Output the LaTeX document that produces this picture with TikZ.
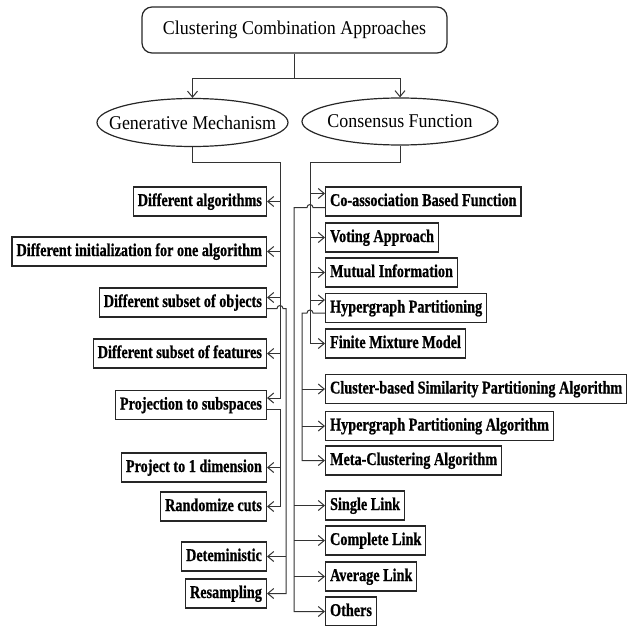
\documentclass[tikz,border=0pt]{standalone}
\usepackage{fontspec}
\setmainfont{Liberation Serif}
\newfontfamily\headfont{Liberation Serif}[FakeStretch=0.92]
\newfontfamily\boxfont{Liberation Serif}[FakeStretch=0.79,BoldFeatures={FakeBold=0.8}]
\usetikzlibrary{calc,arrows.meta,shapes.geometric}

\begin{document}
\begin{tikzpicture}[x=1pt,y=-1pt,->,>={Straight Barb[length=6pt,width=10pt]},
  link/.style={draw=black!80,line width=1pt},
  topbox/.style={draw=black!85,line width=1.2pt,rounded corners=10pt,minimum width=305pt,minimum height=46pt,font=\headfont\fontsize{19.5}{22}\selectfont},
  mech/.style={ellipse,draw=black!85,line width=1.2pt,inner xsep=-20pt,inner ysep=0pt,minimum width=191pt,minimum height=48pt,font=\headfont\fontsize{19.5}{22}\selectfont},
  leaf/.style={draw=black!85,line width=1.2pt,minimum height=29pt,inner xsep=4.5pt,inner ysep=0pt,text height=12.5pt,text depth=3.5pt,font=\boxfont\bfseries\fontsize{18}{20}\selectfont},
  gleaf/.style={leaf,anchor=east},
  cleaf/.style={leaf,anchor=west}]
  \useasboundingbox (0,0) rectangle (627,626);

  \node[topbox] (top) at (294.5,30) {Clustering Combination Approaches};
  \node[mech] (gen) at (192.5,122.5) {Generative Mechanism};
  \node[mech,minimum width=196pt,minimum height=47pt] (con) at (400,121.5) {Consensus Function};

  \node[gleaf] (g1) at (267,201.5) {Different algorithms};
  \node[gleaf] (g2) at (267,251.5) {Different initialization for one algorithm};
  \node[gleaf] (g3) at (267,302.5) {Different subset of objects};
  \node[gleaf] (g4) at (267,353.5) {Different subset of features};
  \node[gleaf] (g5) at (267,405) {Projection to subspaces};
  \node[gleaf] (g6) at (267,467.5) {Project to 1 dimension};
  \node[gleaf] (g7) at (267,506.5) {Randomize cuts};
  \node[gleaf] (g8) at (267,556.5) {Deteministic};
  \node[gleaf] (g9) at (267,593.5) {Resampling};

  \node[cleaf] (c1) at (325,201.5) {Co-association Based Function};
  \node[cleaf] (c2) at (325,237.5) {Voting Approach};
  \node[cleaf] (c3) at (325,272.5) {Mutual Information};
  \node[cleaf] (c4) at (325,308) {Hypergraph Partitioning};
  \node[cleaf] (c5) at (325,343.5) {Finite Mixture Model};
  \node[cleaf] (c6) at (325,389) {Cluster-based Similarity Partitioning Algorithm};
  \node[cleaf] (c7) at (325,426) {Hypergraph Partitioning Algorithm};
  \node[cleaf] (c8) at (325,460.5) {Meta-Clustering Algorithm};
  \node[cleaf] (c9) at (325,505.5) {Single Link};
  \node[cleaf] (c10) at (325,540.5) {Complete Link};
  \node[cleaf] (c11) at (325,576.5) {Average Link};
  \node[cleaf] (c12) at (325,611.5) {Others};

  \coordinate (split) at ($(top.south)+(0,25)$);
  \coordinate (gt) at (280,162);
  \coordinate (gs) at (286,162);
  \coordinate (ct) at (310,162);
  \coordinate (cm) at (302,162);
  \coordinate (cl) at (294,162);
  \coordinate (g3in) at ([yshift=5pt]g3.east);
  \coordinate (g3out) at ([yshift=-6pt]g3.east);
  \coordinate (g5in) at ([yshift=7pt]g5.east);
  \coordinate (g5out) at ([yshift=-4pt]g5.east);
  \coordinate (c1in) at ([yshift=8pt]c1.west);
  \coordinate (c1out) at ([yshift=-6pt]c1.west);
  \coordinate (c4in) at ([yshift=8pt]c4.west);
  \coordinate (c4out) at ([yshift=-5pt]c4.west);

  \draw[link,-] (top) -- (split);
  \draw[link] (split) -| (gen);
  \draw[link] (split) -| (con);

  \draw[link] (gen) |- (gt) |- (g5in);
  \foreach \n in {g1,g2,g4}
    \draw[link] (gt |- \n) -- (\n);
  \draw[link] (gt |- g3in) -- (g3in);
  \draw[link] (g5out) -- (gt |- g5out) |- (g7);
  \draw[link] (gt |- g6) -- (g6);
  \draw[link] (g3out) -- ($(gt |- g3out)+(-3,0)$) arc[start angle=180,end angle=0,radius=3pt] -- (gs |- g3out) |- (g9);
  \draw[link] (gs |- g8) -- (g8);

  \draw[link] (con) |- (ct) |- (c5);
  \foreach \n in {c2,c3}
    \draw[link] (ct |- \n) -- (\n);
  \draw[link] (ct |- c1in) -- (c1in);
  \draw[link] (ct |- c4in) -- (c4in);
  \draw[link] (c4out) -- ($(ct |- c4out)+(3,0)$) arc[start angle=0,end angle=180,radius=3pt] -- (cm |- c4out) |- (c8);
  \foreach \n in {c6,c7}
    \draw[link] (cm |- \n) -- (\n);
  \draw[link] (c1out) -- ($(ct |- c1out)+(3,0)$) arc[start angle=0,end angle=180,radius=3pt] -- (cl |- c1out) |- (c12);
  \foreach \n in {c9,c10,c11}
    \draw[link] (cl |- \n) -- (\n);
\end{tikzpicture}
\end{document}
